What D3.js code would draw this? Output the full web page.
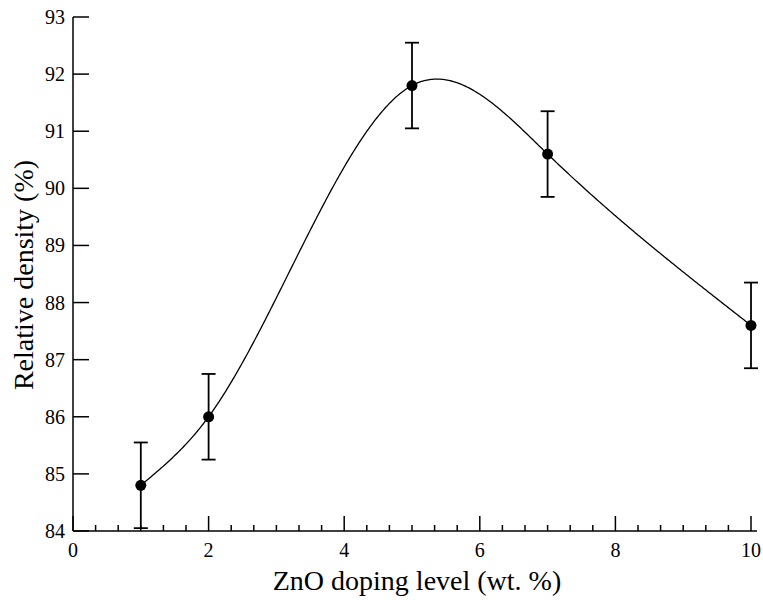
<!DOCTYPE html>
<html><head><meta charset="utf-8">
<script src="https://cdn.jsdelivr.net/npm/d3@7"></script>
<style>body{margin:0;background:#fff}svg{display:block}svg text{font-family:"Liberation Serif","Times New Roman",Times,"DejaVu Serif","Noto Serif",serif}</style>
</head><body><svg id="c" width="763" height="600"></svg>
<script>
const doping = [1, 2, 5, 7, 10];
const density = [84.8, 86.0, 91.8, 90.6, 87.6];
const errors = [0.75, 0.75, 0.75, 0.75, 0.75];
const xTicks = [0, 2, 4, 6, 8, 10];
const yTicks = [84, 85, 86, 87, 88, 89, 90, 91, 92, 93];
const xLabel = "ZnO doping level (wt. %)";
const yLabel = "Relative density (%)";

const svg = d3.select("#c");
const x = d3.scaleLinear().domain([0, 10]).range([73, 751]);
const y = d3.scaleLinear().domain([84, 93]).range([531, 17]);

svg.append("line").attr("x1", x(0)).attr("x2", 757).attr("y1", y(84)).attr("y2", y(84)).attr("stroke", "#000").attr("stroke-width", 1.5);
svg.append("line").attr("x1", x(0)).attr("x2", x(0)).attr("y1", y(84)).attr("y2", y(93)).attr("stroke", "#000").attr("stroke-width", 1.5);

yTicks.forEach(t => {
  svg.append("line").attr("x1", x(0)).attr("x2", x(0) + 16).attr("y1", y(t)).attr("y2", y(t)).attr("stroke", "#000").attr("stroke-width", 1.5);
  svg.append("text").attr("x", x(0) - 8).attr("y", y(t)).attr("dy", "0.35em").attr("text-anchor", "end").attr("font-size", 20).text(t);
});
const minor = d3.range(0, 30).map(i => i / 3).filter((v, i) => i % 6 !== 0);
minor.forEach(t => {
  svg.append("line").attr("x1", x(t)).attr("x2", x(t)).attr("y1", y(84)).attr("y2", y(84) - 6).attr("stroke", "#000").attr("stroke-width", 1.5);
});
xTicks.forEach(t => {
  svg.append("line").attr("x1", x(t)).attr("x2", x(t)).attr("y1", y(84)).attr("y2", y(84) - 15).attr("stroke", "#000").attr("stroke-width", 1.5);
  svg.append("text").attr("x", x(t)).attr("y", 557).attr("text-anchor", "middle").attr("font-size", 20).text(t);
});

svg.append("text").attr("x", 417).attr("y", 590).attr("text-anchor", "middle").attr("font-size", 28).text(xLabel);
svg.append("text").attr("transform", "translate(33,275) rotate(-90)").attr("text-anchor", "middle").attr("font-size", 28).text(yLabel);

function naturalSpline(xs, ys) {
  const n = xs.length, h = [], al = [], l = [1], mu = [0], z = [0], c = new Array(n).fill(0), b = [], d = [];
  for (let i = 0; i < n - 1; i++) h.push(xs[i + 1] - xs[i]);
  for (let i = 1; i < n - 1; i++) al[i] = 3 / h[i] * (ys[i + 1] - ys[i]) - 3 / h[i - 1] * (ys[i] - ys[i - 1]);
  for (let i = 1; i < n - 1; i++) {
    l[i] = 2 * (xs[i + 1] - xs[i - 1]) - h[i - 1] * mu[i - 1];
    mu[i] = h[i] / l[i];
    z[i] = (al[i] - h[i - 1] * z[i - 1]) / l[i];
  }
  for (let j = n - 2; j >= 0; j--) {
    c[j] = j > 0 ? z[j] - mu[j] * c[j + 1] : 0;
    b[j] = (ys[j + 1] - ys[j]) / h[j] - h[j] * (c[j + 1] + 2 * c[j]) / 3;
    d[j] = (c[j + 1] - c[j]) / (3 * h[j]);
  }
  return t => {
    let i = 0;
    while (i < n - 2 && t > xs[i + 1]) i++;
    const dx = t - xs[i];
    return ys[i] + b[i] * dx + c[i] * dx * dx + d[i] * dx * dx * dx;
  };
}
const f = naturalSpline(doping, density);
const samples = d3.range(doping[0], doping[doping.length - 1] + 0.001, 0.02).map(t => [t, f(t)]);
const line = d3.line().x(d => x(d[0])).y(d => y(d[1]));
svg.append("path").attr("d", line(samples)).attr("fill", "none").attr("stroke", "#000").attr("stroke-width", 1.3);

doping.forEach((dx, i) => {
  const g = svg.append("g").attr("stroke", "#000").attr("stroke-width", 1.8);
  const top = y(density[i] + errors[i]), bot = y(density[i] - errors[i]), cx = x(dx);
  g.append("line").attr("x1", cx).attr("x2", cx).attr("y1", top).attr("y2", bot);
  g.append("line").attr("x1", cx - 7).attr("x2", cx + 7).attr("y1", top).attr("y2", top);
  g.append("line").attr("x1", cx - 7).attr("x2", cx + 7).attr("y1", bot).attr("y2", bot);
  svg.append("circle").attr("cx", cx).attr("cy", y(density[i])).attr("r", 5.5).attr("fill", "#000");
});
</script></body></html>
